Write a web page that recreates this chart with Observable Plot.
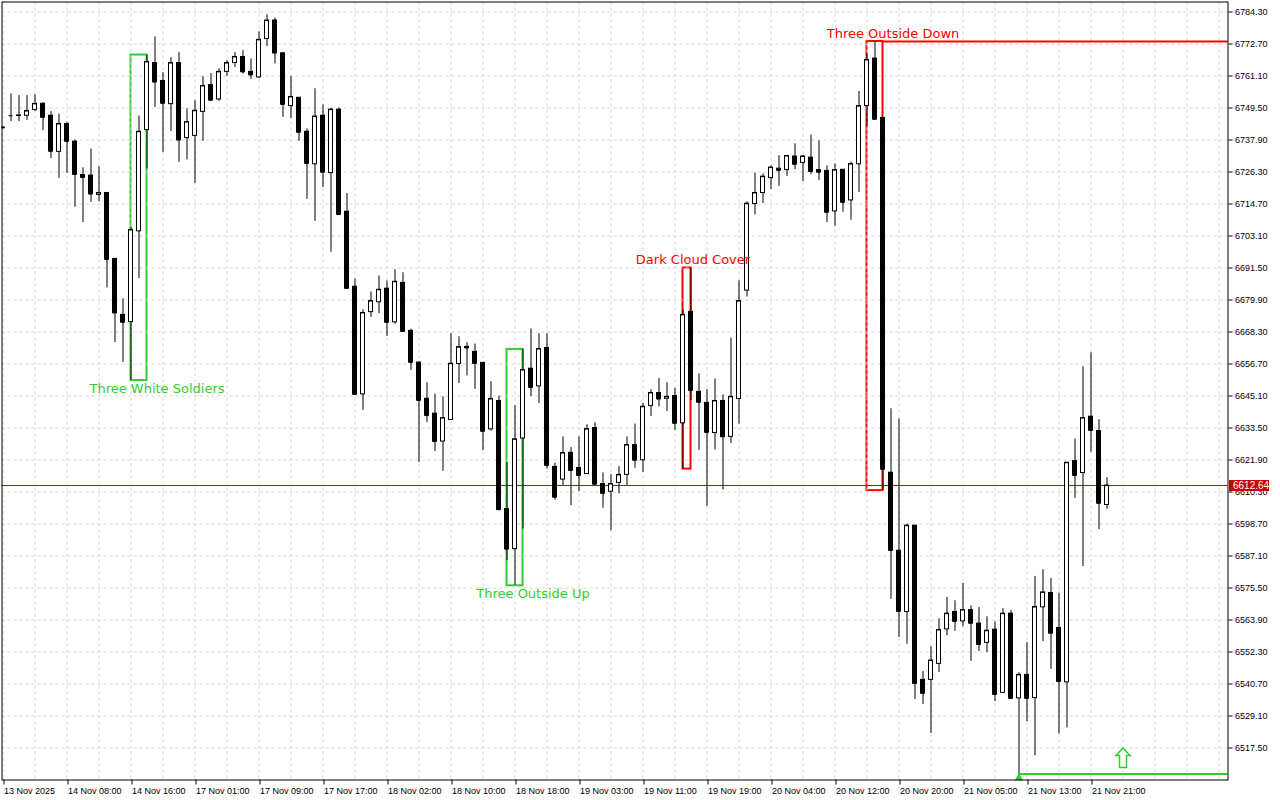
<!DOCTYPE html>
<html><head><meta charset="utf-8">
<script src="https://cdn.jsdelivr.net/npm/d3@7"></script>
<script src="https://cdn.jsdelivr.net/npm/@observablehq/plot@0.6"></script>
<style>html,body{margin:0;padding:0;background:#fff;overflow:hidden}</style>
</head><body><div id="chart"></div>
<script>
// Hourly candles (index 0 = first bar on the chart)
const opens = [6742.4,6746.7,6746.6,6746.7,6748.8,6751.0,6746.7,6733.6,6743.7,6737.3,
6725.2,6725.0,6718.0,6718.7,6694.8,6674.5,6671.9,6704.8,6741.5,6765.8,
6759.3,6750.9,6765.8,6738.6,6739.4,6748.1,6757.8,6752.6,6762.6,6765.8,
6768.0,6762.6,6760.6,6774.5,6781.2,6769.3,6750.2,6753.2,6740.9,6729.1,
6746.7,6725.9,6748.9,6711.9,6684.7,6645.7,6675.5,6679.1,6684.0,6671.8,
6686.1,6668.7,6657.2,6644.1,6638.7,6628.6,6636.4,6656.7,6662.9,6661.1,
6657.1,6633.0,6643.3,6604.1,6589.6,6629.7,6655.0,6648.6,6662.5,6619.4,
6614.8,6624.5,6619.0,6616.8,6633.5,6613.2,6610.4,6613.6,6616.5,6627.3,
6621.8,6641.5,6646.2,6644.1,6645.1,6635.2,6675.6,6646.6,6642.6,6631.7,
6643.3,6630.3,6644.0,6683.3,6714.7,6718.7,6724.1,6727.5,6727.0,6731.9,
6729.6,6731.5,6727.0,6726.7,6712.0,6727.1,6716.0,6729.1,6750.2,6767.4,
6745.9,6617.3,6589.0,6566.8,6598.1,6542.2,6542.2,6548.0,6560.5,6566.8,
6563.4,6567.5,6562.6,6555.6,6560.4,6537.5,6566.2,6535.5,6544.0,6535.6,
6568.5,6573.7,6561.0,6541.3,6621.5,6617.2,6637.6,6632.4,6605.6];
const highs = [6742.8,6754.6,6754.0,6754.0,6754.3,6751.5,6748.2,6747.3,6744.3,6737.9,
6727.8,6734.6,6728.2,6718.7,6694.8,6680.3,6706.2,6746.6,6768.7,6775.3,
6762.3,6767.7,6769.6,6749.2,6752.2,6760.9,6762.0,6763.7,6766.7,6769.6,
6770.3,6767.3,6777.1,6783.3,6782.1,6769.7,6760.9,6753.2,6741.9,6756.5,
6750.6,6749.4,6749.5,6718.5,6687.5,6676.3,6682.8,6688.6,6686.8,6690.9,
6689.8,6669.3,6657.5,6649.9,6645.8,6644.8,6667.7,6666.6,6664.4,6663.9,
6657.1,6650.3,6645.1,6621.0,6641.6,6662.0,6669.4,6667.7,6667.6,6620.8,
6630.3,6626.4,6630.3,6634.7,6635.4,6617.2,6616.6,6619.5,6630.3,6634.9,
6642.4,6647.3,6651.5,6649.9,6647.9,6676.3,6691.5,6653.1,6647.4,6651.3,
6645.5,6666.1,6686.9,6715.5,6725.9,6725.6,6728.5,6732.2,6732.1,6736.5,
6732.3,6739.7,6737.6,6728.5,6729.2,6727.1,6729.9,6755.5,6769.1,6773.6,
6745.9,6640.5,6636.8,6598.7,6598.1,6545.2,6554.2,6564.3,6572.1,6570.9,
6577.2,6569.0,6568.4,6565.1,6563.2,6568.0,6567.3,6544.8,6555.7,6579.7,
6582.1,6579.0,6573.6,6620.9,6629.5,6655.7,6660.8,6636.5,6615.5];
const lows = [6742.0,6744.6,6744.6,6745.0,6748.3,6741.3,6731.2,6724.0,6725.8,6713.5,
6708.0,6715.3,6715.6,6684.3,6664.5,6657.3,6650.7,6687.7,6727.4,6749.7,
6733.4,6741.0,6729.8,6730.7,6722.2,6737.4,6751.9,6751.9,6761.0,6764.2,
6761.8,6759.9,6760.2,6771.8,6765.5,6746.1,6745.7,6737.4,6716.4,6708.4,
6720.7,6697.2,6710.5,6683.7,6645.6,6639.9,6673.6,6674.9,6666.7,6671.1,
6668.4,6654.4,6621.0,6635.5,6625.0,6617.8,6636.4,6649.6,6652.4,6647.5,
6625.3,6632.4,6603.5,6585.4,6576.3,6596.9,6644.9,6642.4,6618.6,6607.4,
6612.6,6605.3,6610.5,6616.8,6612.6,6604.4,6596.3,6609.6,6612.6,6618.9,
6617.4,6637.7,6641.1,6639.5,6632.6,6618.6,6643.4,6625.4,6605.1,6625.5,
6611.0,6627.9,6634.9,6681.0,6710.7,6714.9,6720.0,6721.1,6724.7,6727.1,
6722.8,6725.3,6723.2,6708.0,6706.6,6711.7,6708.8,6718.9,6742.7,6745.4,
6610.8,6571.4,6557.6,6555.1,6535.1,6533.3,6522.8,6544.9,6558.2,6559.8,
6561.5,6548.9,6552.5,6552.1,6534.3,6537.3,6535.1,6508.1,6527.0,6514.7,
6556.1,6546.0,6522.6,6524.8,6608.0,6583.3,6624.7,6596.7,6604.0];
const closes = [6742.3,6746.7,6746.8,6748.4,6751.0,6746.1,6733.8,6743.7,6737.4,6725.4,
6724.3,6718.3,6718.7,6694.6,6675.2,6671.8,6705.3,6740.9,6766.2,6758.9,
6751.2,6765.8,6737.9,6744.4,6748.5,6757.5,6752.3,6762.6,6765.8,6768.0,
6762.6,6761.5,6774.2,6781.2,6769.4,6750.8,6753.5,6740.7,6729.4,6746.4,
6726.2,6748.9,6710.9,6684.1,6645.7,6675.2,6679.5,6683.6,6671.8,6686.5,
6668.5,6657.3,6643.5,6638.0,6628.6,6637.1,6656.8,6662.8,6662.5,6656.9,
6632.3,6644.0,6603.9,6589.6,6629.4,6654.5,6648.2,6662.1,6619.9,6608.4,
6624.4,6618.1,6616.3,6633.1,6613.1,6609.8,6613.2,6616.5,6627.3,6621.8,
6641.2,6646.2,6644.0,6644.8,6635.2,6674.5,6647.1,6642.8,6631.9,6643.3,
6630.3,6644.8,6679.5,6714.8,6718.7,6724.6,6727.9,6726.9,6732.1,6729.1,
6731.9,6726.5,6726.2,6711.7,6727.0,6715.3,6729.2,6750.2,6766.9,6745.4,
6618.5,6589.1,6567.0,6598.1,6540.9,6537.3,6549.2,6560.3,6566.2,6563.4,
6567.5,6562.7,6555.0,6560.0,6536.9,6566.2,6535.5,6544.0,6535.5,6568.6,
6573.9,6559.1,6541.6,6620.9,6616.3,6637.1,6632.6,6606.2,6612.64];

const tickIndex = [0,8,16,24,32,40,48,56,64,72,80,88,96,104,112,120,128,136];
const tickLabels = ["13 Nov 2025","14 Nov 08:00","14 Nov 16:00","17 Nov 01:00","17 Nov 09:00",
"17 Nov 17:00","18 Nov 02:00","18 Nov 10:00","18 Nov 18:00","19 Nov 03:00","19 Nov 11:00",
"19 Nov 19:00","20 Nov 04:00","20 Nov 12:00","20 Nov 20:00","21 Nov 05:00","21 Nov 13:00","21 Nov 21:00"];
const priceTicks = [6784.30,6772.70,6761.10,6749.50,6737.90,6726.30,6714.70,6703.10,6691.50,6679.90,
6668.30,6656.70,6645.10,6633.50,6621.90,6610.30,6598.70,6587.10,6575.50,6563.90,6552.30,6540.70,6529.10,6517.50];

const patternNames = ["Three White Soldiers","Three Outside Up","Dark Cloud Cover","Three Outside Down"];
const patternStart = [16,63,85,108];
const patternEnd = [18,65,86,110];
const patternBullish = [true,true,false,false];
const resistanceFrom = 110;
const supportFrom = 127;
const arrowAt = 140;
const lastPrice = 6612.64;

// ---- derived tables ----
const candles = opens.map((o,i)=>({i, o, h:highs[i], l:lows[i], c:closes[i]}));
const up = candles.filter(d=>d.c>=d.o), down = candles.filter(d=>d.c<d.o);
const patterns = patternNames.map((name,j)=>{
  const s=patternStart[j], e=patternEnd[j];
  return {name, s, e, hi:d3.max(highs.slice(s,e+1)), lo:d3.min(lows.slice(s,e+1)), bull:patternBullish[j]};
});
const bull = patterns.filter(d=>d.bull), bear = patterns.filter(d=>!d.bull);
const bear3 = bear.filter(d=>d.e-d.s===2), bear2 = bear.filter(d=>d.e-d.s===1);
const resistance = patterns[3].hi;
const support = lows[supportFrom];

const green = "#32cd32", red = "#ff0000";
const xDomain = [-0.125, 153.125];
const yDomain = [6505.9, 6787.925];
const axisFont = "Liberation Sans, Arial, sans-serif";
const labelFont = "DejaVu Sans, Verdana, sans-serif";

const rectSym = {draw(ctx){ctx.moveTo(-20,-5.5);ctx.lineTo(20,-5.5);ctx.lineTo(20,5.5);ctx.lineTo(-20,5.5);ctx.closePath();}};
const arrowSym = {draw(ctx){ctx.moveTo(0,-10);ctx.lineTo(7,-2.5);ctx.lineTo(3.5,-2.5);ctx.lineTo(3.5,9.5);ctx.lineTo(-3.5,9.5);ctx.lineTo(-3.5,-2.5);ctx.lineTo(-7,-2.5);ctx.closePath();}};

const chart = Plot.plot({
  width:1280, height:800,
  marginLeft:1.5, marginRight:52.5, marginTop:1.5, marginBottom:20.5,
  style:{background:"#fff", fontFamily:axisFont, fontSize:"9px", color:"#000"},
  x:{type:"linear", domain:xDomain, axis:null},
  y:{type:"linear", domain:yDomain, axis:null},
  marks:[
    Plot.rect(bull, {x1:"s", x2:"e", y1:"lo", y2:"hi", fill:"none", stroke:green, strokeWidth:2}),
    Plot.rect(bear, {x1:"s", x2:"e", y1:"lo", y2:"hi", fill:"none", stroke:red, strokeWidth:2}),
    Plot.gridY(priceTicks, {stroke:"#d4d4d4", strokeOpacity:1, strokeDasharray:"3,3"}),
    Plot.gridX(d3.range(0,154,4), {stroke:"#d4d4d4", strokeOpacity:1, strokeDasharray:"3,3"}),
    Plot.ruleY([lastPrice], {stroke:"#a31515", strokeWidth:1}),
    Plot.ruleY([resistance], {x1:()=>resistanceFrom, x2:()=>xDomain[1], stroke:red, strokeWidth:2}),
    Plot.ruleY([support], {x1:()=>supportFrom, x2:()=>xDomain[1], stroke:green, strokeWidth:2}),
    Plot.ruleX(candles, {x:"i", y1:"l", y2:"h", stroke:"black", strokeWidth:1, clip:true}),
    Plot.rect(up, {x1:d=>d.i-0.25, x2:d=>d.i+0.25, y1:"o", y2:"c", fill:"white", stroke:"black", strokeWidth:1, clip:true}),
    Plot.rect(down, {x1:d=>d.i-0.25, x2:d=>d.i+0.25, y1:"o", y2:"c", fill:"black", stroke:"black", strokeWidth:1, clip:true}),
    Plot.ruleY(candles, {y:"c", x1:d=>d.i-0.25, x2:d=>d.i+0.25, stroke:"black", strokeWidth:1, clip:true}),
    Plot.dot([support], {x:()=>supportFrom, y:d=>d, dy:4, symbol:"triangle", fill:green, r:3.2}),
    Plot.dot([support], {x:()=>arrowAt, y:d=>d, dy:-16, symbol:arrowSym, fill:"white", stroke:green, strokeWidth:1.5, r:5}),
    Plot.text(bull, {x:"e", y:"lo", text:"name", dx:10, dy:8, fill:green, fontSize:13, fontFamily:labelFont}),
    Plot.text(bear3, {x:"e", y:"hi", text:"name", dx:10, dy:-8, fill:red, fontSize:13, fontFamily:labelFont}),
    Plot.text(bear2, {x:"e", y:"hi", text:"name", dx:2, dy:-8, fill:red, fontSize:13, fontFamily:labelFont}),
    Plot.frame({stroke:"black"}),
    Plot.axisY(priceTicks, {anchor:"right", tickSize:4, tickPadding:3, tickFormat:d=>d.toFixed(2), label:null, fontSize:9}),
    Plot.axisX(tickIndex, {anchor:"bottom", tickSize:5, tickPadding:3, textAnchor:"start", dx:1, tickFormat:d=>tickLabels[tickIndex.indexOf(d)], label:null, fontSize:9}),
    Plot.dot([lastPrice], {y:d=>d, frameAnchor:"right", dx:21, symbol:rectSym, fill:"#c80000", stroke:"none", r:5}),
    Plot.text([lastPrice], {y:d=>d, frameAnchor:"right", dx:5, text:d=>d.toFixed(2), textAnchor:"start", fill:"white", fontSize:10})
  ]
});
document.getElementById("chart").appendChild(chart);
</script>
</body></html>
